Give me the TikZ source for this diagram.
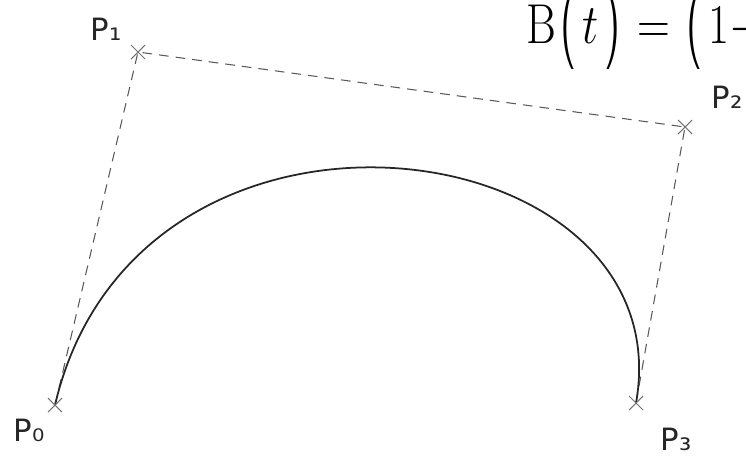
\RequirePackage{fix-cm}
\documentclass[tikz,border=0pt]{standalone}
\usepackage{amsmath}
\usepackage{fontspec}
\setsansfont{DejaVu Sans}
\usepackage{tikz}
\usetikzlibrary{positioning}
\tikzset{ctrl/.style = {draw=black!65, dash pattern=on 5.5pt off 4pt, line width=0.6pt},
  lbl/.style = {inner sep=0, font=\sffamily\fontsize{17.5}{19}\selectfont, text=black!85}}

\begin{document}
\begin{tikzpicture}[x=0.02cm, y=-0.02cm]
    \useasboundingbox (0,0) rectangle (746,457);
    \clip (0,0) rectangle (746,457);
    \coordinate (p0) at (55,405);
    \coordinate (p1) at (138,52);
    \coordinate (p2) at (685,127);
    \coordinate (p3) at (636,403);
    \draw[ctrl] (p0) -- (p1) -- (p2) -- (p3);
    \draw[line width=1pt, black!85] (p0) .. controls (p1) and (p2) .. (p3);
    \node[lbl] (l0) at (29,430) {P₀};
    \node[lbl] (l1) at (106,29) {P₁};
    \node[lbl] (l2) at (727,97) {P₂};
    \node[lbl] (l3) at (676,439) {P₃};
    % formula, cut by the right edge and below
    \begin{scope}
        \clip (500,0) rectangle (746,68);
        \node[inner sep=0, anchor=base west, font=\fontsize{32}{34}\selectfont] (bt) at (526,43)
            {\scalebox{0.81}[1]{$\mathrm{B}\Bigl(t\Bigr) = \Bigl(1 -$}};
    \end{scope}
    \foreach \p in {p0, p1, p2, p3} {
        \draw[black!55, line width=0.6pt] (\p) +(-7,-7) -- +(7,7) +(-7,7) -- +(7,-7); % cross
    }
\end{tikzpicture}
\end{document}
